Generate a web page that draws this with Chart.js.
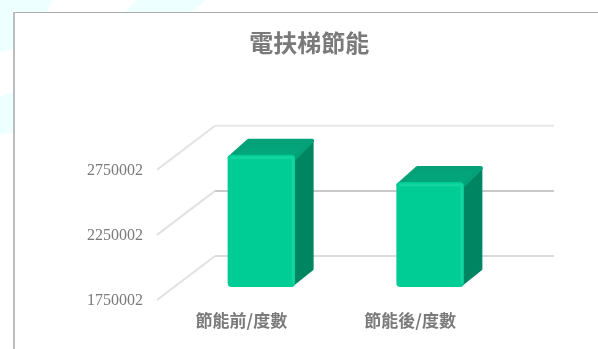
<!DOCTYPE html>
<html>
<head>
<meta charset="utf-8">
<title>電扶梯節能</title>
<script src="https://cdn.jsdelivr.net/npm/chart.js@4"></script>
<style>
  html, body { margin: 0; padding: 0; background: #fff; }
  #wrap { width: 598px; height: 349px; position: relative; }
</style>
</head>
<body>
<div id="wrap"><canvas id="myChart" width="598" height="349"></canvas></div>
<script>
var categories = ["節能前/度數", "節能後/度數"];
var savingValues = [2765000, 2556000];
var tickLabels = [1750002, 2250002, 2750002];
var chartTitle = "電扶梯節能";

var gray = "#7a7a7a";
var cjk = '"Noto Sans CJK TC", "Noto Sans CJK SC", sans-serif';

// fake 3D: floor runs back from the axis plane through the bars to the wall
var axisX = 157, wallX = 215, wallRight = 554;
var axisDrop = 13, wallRise = 31;
var barDepthX = 19, barDepthY = 16;
var gridColors = ["#dcdcdc", "#c9c9c9", "#e8e8e8"];

function fillPoly(ctx, pts, fill) {
  ctx.beginPath();
  pts.forEach(function (p, i) {
    if (i === 0) ctx.moveTo(p[0], p[1]);
    else ctx.lineTo(p[0], p[1]);
  });
  ctx.closePath();
  ctx.fillStyle = fill;
  ctx.fill();
}

// page backdrop and the panel frame
var panelPlugin = {
  id: "panel",
  afterLayout: function (chart) {
    // title sits over the plot, not over the axis box
    chart.titleBlock.left += 12;
    chart.titleBlock.right += 12;
  },
  beforeDraw: function (chart) {
    var ctx = chart.ctx;
    ctx.save();
    var tint = "#edffff";
    fillPoly(ctx, [[0, 0], [52, 0], [47, 13], [14, 13], [14, 49], [0, 52]], tint);
    fillPoly(ctx, [[0, 97], [14, 92], [14, 132], [0, 135]], tint);
    fillPoly(ctx, [[137, 0], [206, 0], [190, 13], [124, 13]], tint);
    ctx.fillStyle = "#fff";
    ctx.fillRect(14, 13, 584, 336);
    ctx.fillStyle = "#a8aca8";
    ctx.fillRect(13, 12, 585, 1);
    ctx.fillStyle = "#bdbdbd";
    ctx.fillRect(13, 12, 2, 337);
    ctx.restore();
  }
};

// walls go down first, then the side and top of each bar behind its front face
var depthPlugin = {
  id: "depth",
  beforeDatasetsDraw: function (chart) {
    var ctx = chart.ctx;
    var y = chart.scales.y;
    ctx.save();
    ctx.lineWidth = 2;
    tickLabels.forEach(function (v, i) {
      var py = y.getPixelForValue(v);
      ctx.strokeStyle = "#e2e2e2";
      ctx.beginPath();
      ctx.moveTo(axisX, py + axisDrop);
      ctx.lineTo(wallX, py - wallRise);
      ctx.stroke();
      ctx.strokeStyle = gridColors[i];
      ctx.beginPath();
      ctx.moveTo(wallX, py - wallRise);
      ctx.lineTo(wallRight, py - wallRise);
      ctx.stroke();
    });
    chart.getDatasetMeta(0).data.forEach(function (bar) {
      var l = bar.x - bar.width / 2, r = bar.x + bar.width / 2;
      var top = bar.y, base = bar.base;
      ctx.lineJoin = "round";
      ctx.lineWidth = 3;
      ctx.strokeStyle = "#008562";
      ctx.beginPath();
      ctx.moveTo(r - 3, top + 3);
      ctx.lineTo(r + barDepthX - 2, top - barDepthY + 3);
      ctx.lineTo(r + barDepthX - 2, base - barDepthY - 2);
      ctx.lineTo(r - 3, base - 2);
      ctx.closePath();
      ctx.fillStyle = "#008562";
      ctx.fill();
      ctx.stroke();

      var g = ctx.createLinearGradient(0, top - barDepthY, 0, top + 2);
      g.addColorStop(0, "#07a078");
      g.addColorStop(1, "#00a87c");
      ctx.lineWidth = 4;
      ctx.strokeStyle = "#04a078";
      ctx.beginPath();
      ctx.moveTo(l + 2, top + 3);
      ctx.lineTo(l + barDepthX + 2, top - barDepthY + 2);
      ctx.lineTo(r + barDepthX - 2, top - barDepthY + 2);
      ctx.lineTo(r, top + 3);
      ctx.closePath();
      ctx.fillStyle = g;
      ctx.fill();
      ctx.stroke();
    });
    ctx.restore();
  },
  afterDatasetsDraw: function (chart) {
    var ctx = chart.ctx;
    ctx.save();
    // soft bevel along the top and right edge of the front face
    chart.getDatasetMeta(0).data.forEach(function (bar) {
      var r = bar.x + bar.width / 2, l = bar.x - bar.width / 2;
      ctx.strokeStyle = "rgba(40,225,170,0.45)";
      ctx.lineWidth = 3;
      ctx.beginPath();
      ctx.moveTo(l + 3, bar.y + 3);
      ctx.lineTo(r - 2, bar.y + 3);
      ctx.lineTo(r - 2, bar.base - 4);
      ctx.stroke();
    });
    ctx.restore();
  }
};

new Chart(document.getElementById("myChart").getContext("2d"), {
  type: "bar",
  data: {
    labels: categories,
    datasets: [{
      data: savingValues,
      base: tickLabels[0],
      backgroundColor: "#00cc96",
      borderRadius: 4,
      borderSkipped: false,
      barPercentage: 0.8,
      categoryPercentage: 0.5,
      clip: false
    }]
  },
  options: {
    responsive: false,
    animation: false,
    layout: { padding: { left: 80, right: 83.5, top: 0, bottom: 10 } },
    plugins: {
      legend: { display: false },
      tooltip: { enabled: false },
      title: {
        display: true,
        text: chartTitle,
        color: gray,
        font: { family: cjk, size: 24, weight: "bold" },
        padding: { top: 28, bottom: 100 }
      }
    },
    scales: {
      x: {
        grid: { display: false, drawTicks: false },
        border: { display: false },
        afterFit: function (s) { s.height = 52; },
        ticks: {
          color: gray,
          padding: 23,
          labelOffset: -20,
          maxRotation: 0,
          font: { family: cjk, size: 17, weight: "bold" }
        }
      },
      y: {
        min: tickLabels[0],
        max: tickLabels[2],
        grid: { display: false, drawTicks: false },
        border: { display: false },
        afterFit: function (s) { s.width = 97; },
        afterBuildTicks: function (s) {
          s.ticks = tickLabels.map(function (v) { return { value: v }; });
        },
        ticks: {
          color: gray,
          padding: 34,
          labelOffset: 14,
          callback: function (v) { return String(v); },
          font: { family: '"Liberation Serif", serif', size: 16 }
        }
      }
    }
  },
  plugins: [panelPlugin, depthPlugin]
});
</script>
</body>
</html>
